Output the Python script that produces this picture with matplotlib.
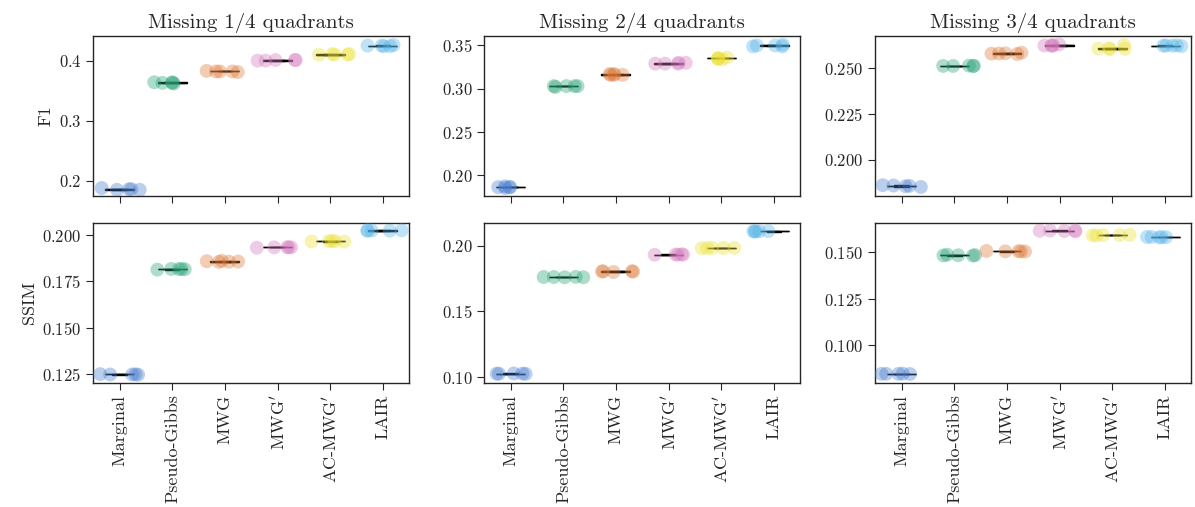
import matplotlib
matplotlib.use("Agg")
import matplotlib.pyplot as plt
import numpy as np
import pandas as pd
import seaborn as sns

sns.set_style("ticks")
plt.rcParams["font.family"] = ["cmr10", "DejaVu Serif"]
plt.rcParams["mathtext.fontset"] = "cm"
plt.rcParams["axes.formatter.use_mathtext"] = True

METHODS = ["Marginal", "Pseudo-Gibbs", "MWG", "MWG$'$", "AC-MWG$'$", "LAIR"]
TITLES = ["Missing 1/4 quadrants", "Missing 2/4 quadrants", "Missing 3/4 quadrants"]
METRICS = ["F1", "SSIM"]
COLORS = ["#4a7fd0", "#2aa478", "#e07a3a", "#d67bbf", "#ece133", "#56b4e9"]

# one row per method, five runs each
F1_Q1 = [
    [0.188, 0.186, 0.185, 0.186, 0.185],
    [0.362, 0.363, 0.364, 0.363, 0.364],
    [0.382, 0.381, 0.382, 0.383, 0.382],
    [0.401, 0.400, 0.401, 0.401, 0.400],
    [0.410, 0.411, 0.410, 0.411, 0.410],
    [0.425, 0.424, 0.426, 0.424, 0.425],
]
F1_Q2 = [
    [0.186, 0.186, 0.185, 0.186, 0.187],
    [0.303, 0.303, 0.302, 0.303, 0.303],
    [0.316, 0.317, 0.316, 0.316, 0.317],
    [0.329, 0.329, 0.330, 0.329, 0.330],
    [0.335, 0.335, 0.336, 0.334, 0.335],
    [0.349, 0.350, 0.351, 0.350, 0.349],
]
F1_Q3 = [
    [0.1852, 0.1858, 0.1862, 0.1860, 0.1856],
    [0.2511, 0.2512, 0.2510, 0.2513, 0.2511],
    [0.2583, 0.2578, 0.2579, 0.2580, 0.2576],
    [0.2628, 0.2622, 0.2624, 0.2620, 0.2623],
    [0.2605, 0.2607, 0.2602, 0.2625, 0.2604],
    [0.2622, 0.2621, 0.2623, 0.2619, 0.2621],
]
SSIM_Q1 = [
    [0.1246, 0.1245, 0.1248, 0.1247, 0.1246],
    [0.1818, 0.1816, 0.1818, 0.1814, 0.1817],
    [0.1860, 0.1856, 0.1858, 0.1862, 0.1857],
    [0.1936, 0.1935, 0.1935, 0.1933, 0.1935],
    [0.1968, 0.1967, 0.1970, 0.1968, 0.1966],
    [0.2027, 0.2025, 0.2026, 0.2025, 0.2027],
]
SSIM_Q2 = [
    [0.1026, 0.1028, 0.1026, 0.1027, 0.1025],
    [0.1762, 0.1760, 0.1763, 0.1760, 0.1762],
    [0.1804, 0.1806, 0.1803, 0.1805, 0.1800],
    [0.1932, 0.1933, 0.1931, 0.1933, 0.1934],
    [0.1982, 0.1983, 0.1981, 0.1982, 0.1984],
    [0.2108, 0.2110, 0.2111, 0.2109, 0.2110],
]
SSIM_Q3 = [
    [0.0847, 0.0848, 0.0846, 0.0847, 0.0847],
    [0.1485, 0.1482, 0.1480, 0.1483, 0.1481],
    [0.1505, 0.1503, 0.1502, 0.1503, 0.1504],
    [0.1615, 0.1612, 0.1610, 0.1613, 0.1614],
    [0.1590, 0.1588, 0.1591, 0.1589, 0.1590],
    [0.1580, 0.1578, 0.1579, 0.1580, 0.1579],
]

GRID = [[F1_Q1, F1_Q2, F1_Q3], [SSIM_Q1, SSIM_Q2, SSIM_Q3]]
YLIMS = [[(0.175, 0.441), (0.176, 0.361), (0.1804, 0.2674)],
         [(0.1201, 0.2067), (0.0957, 0.2173), (0.0799, 0.1655)]]


def to_frame(rows):
    recs = [(m, v) for m, vals in zip(METHODS, rows) for v in vals]
    return pd.DataFrame(recs, columns=["method", "value"])


fig, axes = plt.subplots(2, 3, figsize=(11.95, 5.07), dpi=100, sharex=True)
fig.subplots_adjust(left=0.078, right=0.997, top=0.929, bottom=0.245, wspace=0.237, hspace=0.17)

np.random.seed(7)
for r in range(2):
    for c in range(3):
        ax = axes[r, c]
        df = to_frame(GRID[r][c])
        sns.boxplot(data=df, x="method", y="value", hue="method", palette=COLORS, ax=ax,
                    width=0.55, linewidth=1.0, linecolor="k", showfliers=False, legend=False)
        sns.stripplot(data=df, x="method", y="value", hue="method", palette=COLORS, ax=ax,
                      jitter=0.4, size=10, alpha=0.38, linewidth=0, legend=False)
        ax.set_ylim(*YLIMS[r][c])
        ax.set_xlim(-0.5, 5.5)
        ax.set_xlabel("")
        ax.set_ylabel(METRICS[r] if c == 0 else "", fontsize=13)
        ax.tick_params(labelsize=12, length=5, direction="out")
        for s in ax.spines.values():
            s.set_linewidth(1.0)
        if r == 0:
            ax.set_title(TITLES[c], fontsize=15)
        else:
            ax.set_xticks(range(len(METHODS)))
            ax.set_xticklabels(METHODS, rotation=90, fontsize=13)

fig.savefig("out.png", dpi=100)
